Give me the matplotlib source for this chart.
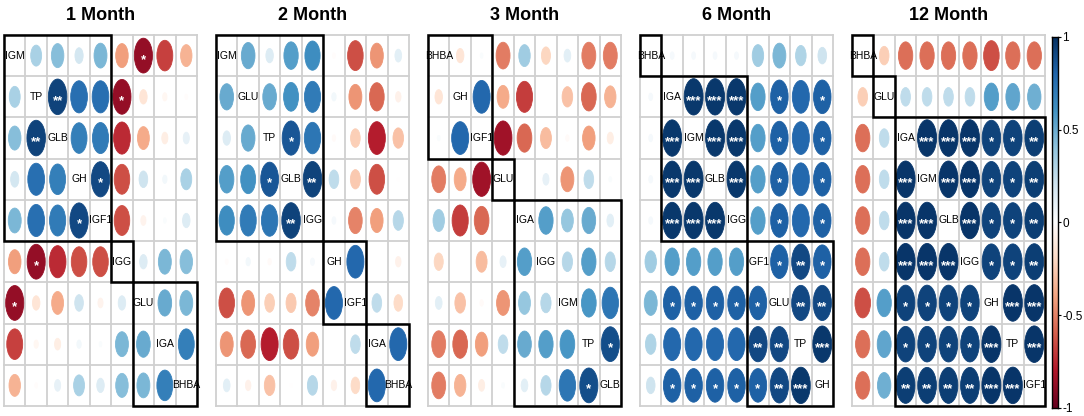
import numpy as np
import matplotlib
matplotlib.use("Agg")
import matplotlib.pyplot as plt
from matplotlib.patches import Ellipse, Rectangle
from matplotlib.colors import LinearSegmentedColormap, Normalize

plt.rcParams['font.family'] = ['Liberation Sans Narrow', 'Liberation Sans', 'DejaVu Sans']

# ---------------- data ----------------
titles = ["1 Month", "2 Month", "3 Month", "6 Month", "12 Month"]

labels_1 = ["IGM", "TP", "GLB", "GH", "IGF1", "IGG", "GLU", "IGA", "BHBA"]
upper_1 = [[0.32, 0.42, 0.18, 0.45, -0.42, -0.88, -0.68, -0.35],
           [0.92, 0.75, 0.75, -0.88, -0.15, -0.05, -0.02],
           [0.68, 0.70, -0.75, -0.38, -0.10, 0.10],
           [0.90, -0.65, 0.20, 0.05, 0.32],
           [-0.65, -0.07, 0.02, 0.15],
           [0.15, 0.45, 0.42],
           [0.50, 0.45],
           [0.68]]
stars_1 = [[0, 0, 0, 0, 0, 1, 0, 0],
           [2, 0, 0, 1, 0, 0, 0],
           [0, 0, 0, 0, 0, 0],
           [1, 0, 0, 0, 0],
           [0, 0, 0, 0],
           [0, 0, 0],
           [0, 0],
           [0]]
groups_1 = [5, 1, 3]

labels_2 = ["IGM", "GLU", "TP", "GLB", "IGG", "GH", "IGF1", "IGA", "BHBA"]
upper_2 = [[0.50, 0.15, 0.55, 0.62, -0.02, -0.65, -0.45, 0.12],
           [0.50, 0.60, 0.70, 0.05, -0.45, -0.58, -0.08],
           [0.85, 0.72, -0.03, -0.25, -0.78, -0.30],
           [0.92, 0.25, -0.27, -0.65, -0.01],
           [0.04, -0.50, -0.42, 0.28],
           [0.78, 0.00, -0.08],
           [0.25, -0.20],
           [0.78]]
stars_2 = [[0, 0, 0, 0, 0, 0, 0, 0],
           [0, 0, 0, 0, 0, 0, 0],
           [1, 0, 0, 0, 0, 0],
           [2, 0, 0, 0, 0],
           [0, 0, 0, 0],
           [0, 0, 0],
           [0, 0],
           [0]]
groups_2 = [5, 2, 2]

labels_3 = ["BHBA", "GH", "IGF1", "GLU", "IGA", "IGG", "IGM", "TP", "GLB"]
upper_3 = [[-0.15, 0.02, -0.52, 0.35, -0.22, 0.12, -0.52, -0.52],
           [0.78, -0.38, -0.70, 0.00, -0.30, -0.58, -0.35],
           [-0.85, -0.58, -0.32, -0.03, -0.42, -0.10],
           [0.00, 0.10, -0.45, 0.25, 0.02],
           [0.55, 0.38, 0.50, 0.12],
           [0.28, 0.55, 0.28],
           [0.58, 0.72],
           [0.88]]
stars_3 = [[0, 0, 0, 0, 0, 0, 0, 0],
           [0, 0, 0, 0, 0, 0, 0],
           [0, 0, 0, 0, 0, 0],
           [0, 0, 0, 0, 0],
           [0, 0, 0, 0],
           [0, 0, 0],
           [0, 0],
           [1]]
groups_3 = [3, 1, 5]

labels_4 = ["BHBA", "IGA", "IGM", "GLB", "IGG", "IGF1", "GLU", "TP", "GH"]
upper_4 = [[0.04, 0.04, 0.04, 0.04, 0.35, 0.45, 0.30, 0.20],
           [0.96, 0.96, 0.96, 0.55, 0.82, 0.78, 0.82],
           [0.96, 0.96, 0.55, 0.82, 0.78, 0.82],
           [0.96, 0.55, 0.82, 0.78, 0.82],
           [0.55, 0.82, 0.78, 0.82],
           [0.82, 0.90, 0.82],
           [0.90, 0.90],
           [0.96]]
stars_4 = [[0, 0, 0, 0, 0, 0, 0, 0],
           [3, 3, 3, 0, 1, 0, 1],
           [3, 3, 0, 1, 0, 1],
           [3, 0, 1, 0, 1],
           [0, 1, 0, 1],
           [1, 2, 1],
           [2, 2],
           [3]]
groups_4 = [1, 4, 4]

labels_5 = ["BHBA", "GLU", "IGA", "IGM", "GLB", "IGG", "GH", "TP", "IGF1"]
upper_5 = [[-0.25, -0.55, -0.55, -0.55, -0.55, -0.65, -0.55, -0.55],
           [0.25, 0.25, 0.25, 0.25, 0.55, 0.52, 0.48],
           [0.97, 0.97, 0.97, 0.92, 0.92, 0.94],
           [0.97, 0.97, 0.92, 0.92, 0.94],
           [0.97, 0.92, 0.92, 0.94],
           [0.92, 0.92, 0.94],
           [0.97, 0.97],
           [0.97]]
stars_5 = [[0, 0, 0, 0, 0, 0, 0, 0],
           [0, 0, 0, 0, 0, 0, 0],
           [3, 3, 3, 1, 1, 2],
           [3, 3, 1, 1, 2],
           [3, 1, 1, 2],
           [1, 1, 2],
           [3, 3],
           [3]]
groups_5 = [1, 1, 7]

panels = [(labels_1, upper_1, stars_1, groups_1),
          (labels_2, upper_2, stars_2, groups_2),
          (labels_3, upper_3, stars_3, groups_3),
          (labels_4, upper_4, stars_4, groups_4),
          (labels_5, upper_5, stars_5, groups_5)]

cbar_ticks = [-1, -0.5, 0, 0.5, 1]
cbar_ticklabels = ["-1", "-0.5", "0", "0.5", "1"]

# ---------------- style ----------------
rdbu = ["#67001F", "#B2182B", "#D6604D", "#F4A582", "#FDDBC7", "#FFFFFF",
        "#D1E5F0", "#92C5DE", "#4393C3", "#2166AC", "#053061"]
cmap = LinearSegmentedColormap.from_list("corr", rdbu, N=200)
norm = Normalize(-1, 1)

W, H = 1084, 416
fig = plt.figure(figsize=(W / 100, H / 100), dpi=100)

def full_matrix(upper):
    n = len(upper) + 1
    m = np.eye(n)
    for i, row in enumerate(upper):
        for k, v in enumerate(row):
            j = i + 1 + k
            m[i, j] = v
            m[j, i] = v
    return m

grid_col = "#d0d0d0"
panel_left0, panel_step, panel_w = 4, 212, 193
top_px, bot_px = 35, 406

for p, (labels, upper, stars, groups) in enumerate(panels):
    n = len(labels)
    m = full_matrix(upper)
    s = full_matrix(stars).astype(int)
    left = panel_left0 + panel_step * p
    ax = fig.add_axes([left / W, (H - bot_px) / H, panel_w / W, (bot_px - top_px) / H])
    ax.set_xlim(0, n)
    ax.set_ylim(n, 0)
    ax.axis("off")
    # grid
    for k in range(n + 1):
        ax.plot([k, k], [0, n], color=grid_col, lw=1.3, zorder=1, clip_on=False)
        ax.plot([0, n], [k, k], color=grid_col, lw=1.3, zorder=1, clip_on=False)
    for i in range(n):
        for j in range(n):
            if i == j:
                ax.text(j + 0.5, i + 0.5, labels[i], ha="center", va="center",
                        fontsize=7.5, color="black", zorder=4)
                continue
            v = m[i, j]
            d = 0.9 * np.sqrt(abs(v))
            c = cmap(norm(v))
            ax.add_patch(Ellipse((j + 0.5, i + 0.5), d, d, facecolor=c,
                                 edgecolor=c, lw=0.6, zorder=2))
            if s[i, j] > 0:
                ax.text(j + 0.5, i + 0.6, "*" * s[i, j], ha="center", va="center",
                        fontsize=9.5, color="white", fontweight="bold", zorder=3)
    # cluster rectangles
    start = 0
    for g in groups:
        ax.add_patch(Rectangle((start, start), g, g, fill=False, edgecolor="black",
                               lw=1.8, zorder=5, clip_on=False))
        start += g
    fig.text((left + panel_w / 2) / W, 1 - 15 / H, titles[p], ha="center", va="center",
             fontsize=13, fontweight="bold")

# colorbar
cb_top, cb_bot = 37, 408
cax = fig.add_axes([1052 / W, (H - cb_bot) / H, 6 / W, (cb_bot - cb_top) / H])
grad = np.linspace(-1, 1, 200).reshape(-1, 1)
cax.imshow(grad, aspect="auto", cmap=cmap, norm=norm, origin="lower",
           extent=[0, 1, -1, 1])
cax.set_xticks([])
cax.yaxis.tick_right()
cax.set_yticks(cbar_ticks)
cax.set_yticklabels(cbar_ticklabels)
cax.tick_params(axis="y", length=2, width=0.8, pad=1, labelsize=8.5)
for sp in cax.spines.values():
    sp.set_linewidth(1.0)

fig.savefig("out.png", dpi=100)
